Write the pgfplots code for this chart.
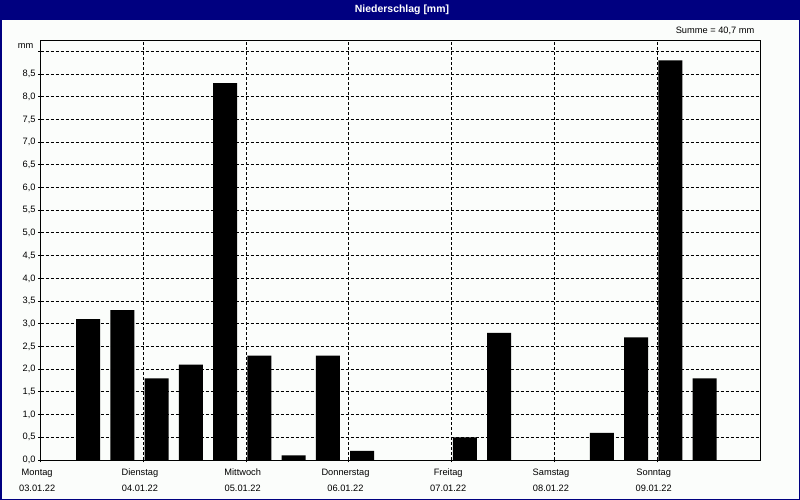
\documentclass[border=0pt]{standalone}
\usepackage{pgfplots}
\pgfplotsset{compat=1.18}
\usepackage{fontspec}
\setmainfont{Liberation Sans}
\definecolor{navyframe}{RGB}{0,0,128}
\definecolor{bgc}{RGB}{251,253,251}
\begin{document}
\begin{tikzpicture}
\path[use as bounding box] (0bp,0bp) rectangle (800bp,500bp);
\fill[bgc] (0bp,0bp) rectangle (800bp,500bp);
\fill[navyframe] (0bp,480bp) rectangle (800bp,500bp);
\draw[navyframe, line width=1.5bp] (0.75bp,0.75bp) rectangle (799.25bp,499.25bp);
\node[white, font=\fontsize{10.5}{12}\selectfont\bfseries] at (402bp,490bp) {Niederschlag [mm]};
\node[anchor=base east, inner sep=0pt, font=\fontsize{9.3}{11}\selectfont] at (754.5bp,466bp) {Summe = 40,7 mm};
\node[anchor=base east, inner sep=0pt, font=\fontsize{9.3}{11}\selectfont] at (33.5bp,451.7bp) {mm};
\begin{axis}[
  at={(40.7bp,40bp)}, anchor=south west,
  scale only axis, width=719.3bp, height=420bp,
  xmin=0, xmax=7, ymin=0, ymax=9.25,
  axis background/.style={fill=bgc},
  axis line style={black, line width=1bp},
  xtick={0,1,2,3,4,5,6},
  xticklabels={{Montag\\03.01.22},{Dienstag\\04.01.22},{Mittwoch\\05.01.22},{Donnerstag\\06.01.22},{Freitag\\07.01.22},{Samstag\\08.01.22},{Sonntag\\09.01.22}},
  ytick={0,0.5,1,1.5,2,2.5,3,3.5,4,4.5,5,5.5,6,6.5,7,7.5,8,8.5,9},
  yticklabels={{0,0},{0,5},{1,0},{1,5},{2,0},{2,5},{3,0},{3,5},{4,0},{4,5},{5,0},{5,5},{6,0},{6,5},{7,0},{7,5},{8,0},{8,5},{}},
  xtick pos=lower, ytick pos=left,
  tick align=outside, major tick length=2.5bp,
  tick style={black, line width=1bp},
  grid=major,
  grid style={black, line width=1bp, dash pattern=on 3bp off 2bp},
  yticklabel style={inner sep=2.5bp, font=\fontsize{9.3}{13}\selectfont},
  xticklabel style={align=center, xshift=-3.5bp, yshift=-4.5bp, inner sep=2bp, font=\fontsize{9.3}{15.5}\selectfont},
  /pgf/number format/assume math mode=true,
]
\addplot[ybar, bar width=24bp, bar shift=0pt, fill=black, draw=none] coordinates {
(0.461,3.1) (0.795,3.3) (1.128,1.8) (1.461,2.1) (1.795,8.3)
(2.128,2.3) (2.461,0.1) (2.795,2.3) (3.128,0.2)
(4.128,0.5) (4.461,2.8)
(5.461,0.6) (5.795,2.7) (6.128,8.8) (6.461,1.8)
};
\end{axis}
\end{tikzpicture}
\end{document}
